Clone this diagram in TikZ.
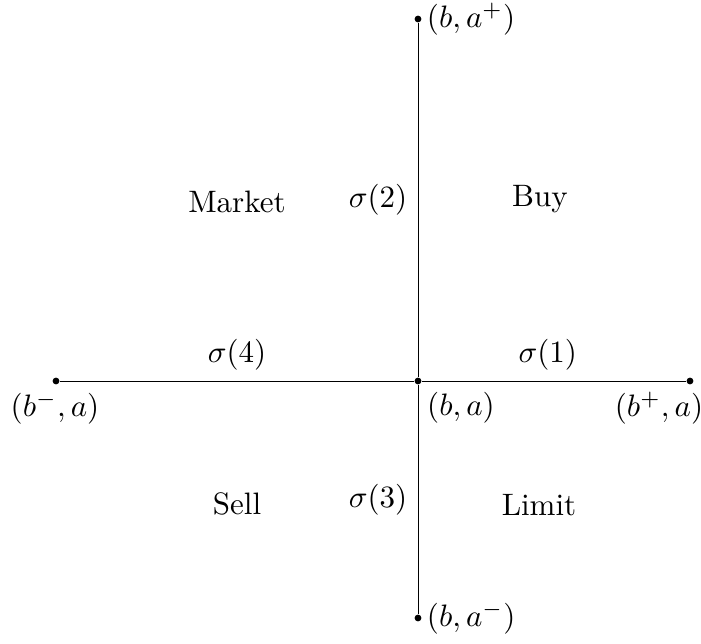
\documentclass[tikz,border=0pt]{standalone}
\begin{document}
\begin{tikzpicture}[x=0.3226pt,y=-0.3226pt,
  dot/.style={circle,fill=black,inner sep=0pt,minimum size=2.2pt},
  seg/.style={draw=black,line width=0.3pt}]
\useasboundingbox (0,0) rectangle (701,643);
\node[dot] (O) at (418,381) {};
\node[dot] (T) at (418,19) {};
\node[dot] (B) at (418,618) {};
\node[dot] (L) at (56,381) {};
\node[dot] (R) at (690,381) {};
\draw[seg] (L) -- (O) node[midway,above] (s4) {$\sigma(4)$};
\draw[seg] (O) -- (R) node[midway,above,xshift=-2pt] (s1) {$\sigma(1)$};
\draw[seg] (T) -- (O) node[midway,left] (s2) {$\sigma(2)$};
\draw[seg] (O) -- (B) node[midway,left] (s3) {$\sigma(3)$};
\node[anchor=west] (lT) at (416,19) {$(b,a^+)$};
\node[anchor=west] (lB) at (416,618) {$(b,a^-)$};
\node (lL) at (55,408) {$(b^-,a)$};
\node (lR) at (659,408) {$(b^+,a)$};
\node (lO) at (461,408) {$(b,a)$};
\node (mk) at (237,202) {Market};
\node (buy) at (540,199) {Buy};
\node (sell) at (237,504) {Sell};
\node (lim) at (539,505) {Limit};
\end{tikzpicture}
\end{document}
